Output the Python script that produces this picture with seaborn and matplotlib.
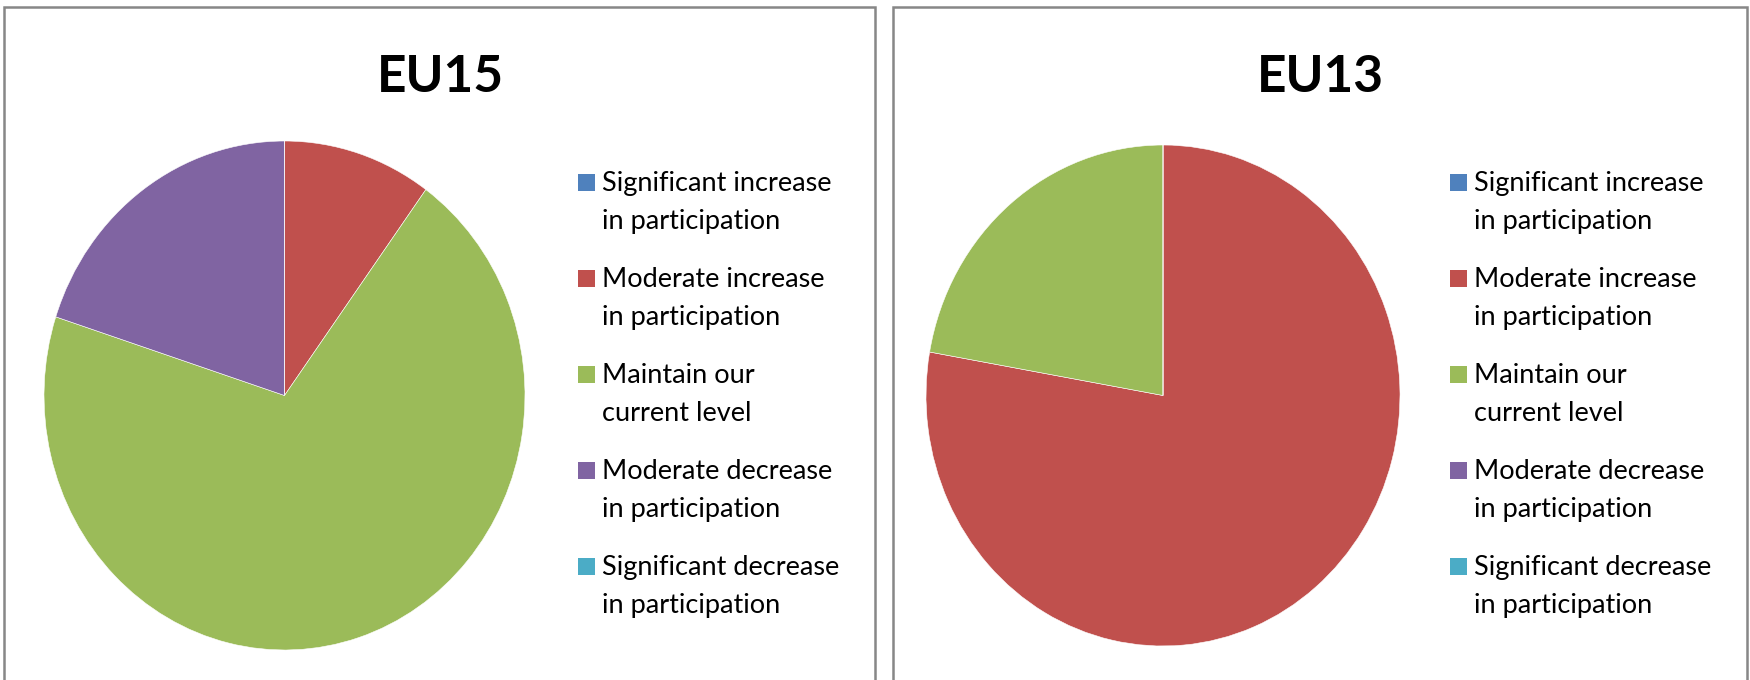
import matplotlib
matplotlib.use("Agg")
import matplotlib.pyplot as plt
from matplotlib.patches import Rectangle
import seaborn as sns

# survey answers (respondent counts)
categories = [
    "Significant increase\nin participation",
    "Moderate increase\nin participation",
    "Maintain our\ncurrent level",
    "Moderate decrease\nin participation",
    "Significant decrease\nin participation",
]
eu15_counts = [0, 1, 7, 2, 0]
eu13_counts = [0, 7, 2, 0, 0]
panel_titles = ["EU15", "EU13"]
colors = ["#4F81BD", "#C0504D", "#9BBB59", "#8064A2", "#4BACC6"]

sns.set_theme(style="white")
plt.rcParams["font.family"] = ["Lato", "DejaVu Sans"]

W, H = 1750, 680
fig = plt.figure(figsize=(W / 100, H / 100), dpi=100)


def fx(x):
    return x / W


def fy(y):
    return 1 - y / H


# layout in pixels: frame x-range, pie box (l, t, r, b), title centre, legend x
panels = [
    dict(frame=(4, 875), pie=(44, 141, 525, 650), title_x=440, legend_x=578),
    dict(frame=(893, 1747), pie=(926, 145, 1400, 646), title_x=1320, legend_x=1450),
]

for title, counts, lay in zip(panel_titles, [eu15_counts, eu13_counts], panels):
    x0, x1 = lay["frame"]
    fig.patches.append(Rectangle((fx(x0), fy(700)), (x1 - x0) / W, 693 / H,
                                 transform=fig.transFigure, fill=False,
                                 edgecolor="#878787", linewidth=1.8, clip_on=False))

    l, t, r, b = lay["pie"]
    ax = fig.add_axes([fx(l), fy(b), (r - l) / W, (b - t) / H])
    ax.pie(counts, colors=colors, startangle=90, counterclock=False,
           wedgeprops=dict(edgecolor="white", linewidth=0.4))
    ax.set_aspect("auto")
    ax.set_xlim(-1, 1)
    ax.set_ylim(-1, 1)
    ax.axis("off")

    fig.text(fx(lay["title_x"]), fy(92), title, ha="center", va="baseline",
             fontsize=37, fontweight="bold", color="black")

    # legend: square next to first line of each two-line label
    lx = lay["legend_x"]
    for i, (lab, col) in enumerate(zip(categories, colors)):
        base = 191 + 96 * i
        fig.patches.append(Rectangle((fx(lx), fy(base)), 17 / W, 17 / H,
                                     transform=fig.transFigure, facecolor=col,
                                     edgecolor="none"))
        for j, line in enumerate(lab.split("\n")):
            fig.text(fx(lx + 24), fy(base + 38 * j), line, ha="left", va="baseline",
                     fontsize=19.5, color="black")

fig.savefig("out.png", dpi=100, facecolor="white")
